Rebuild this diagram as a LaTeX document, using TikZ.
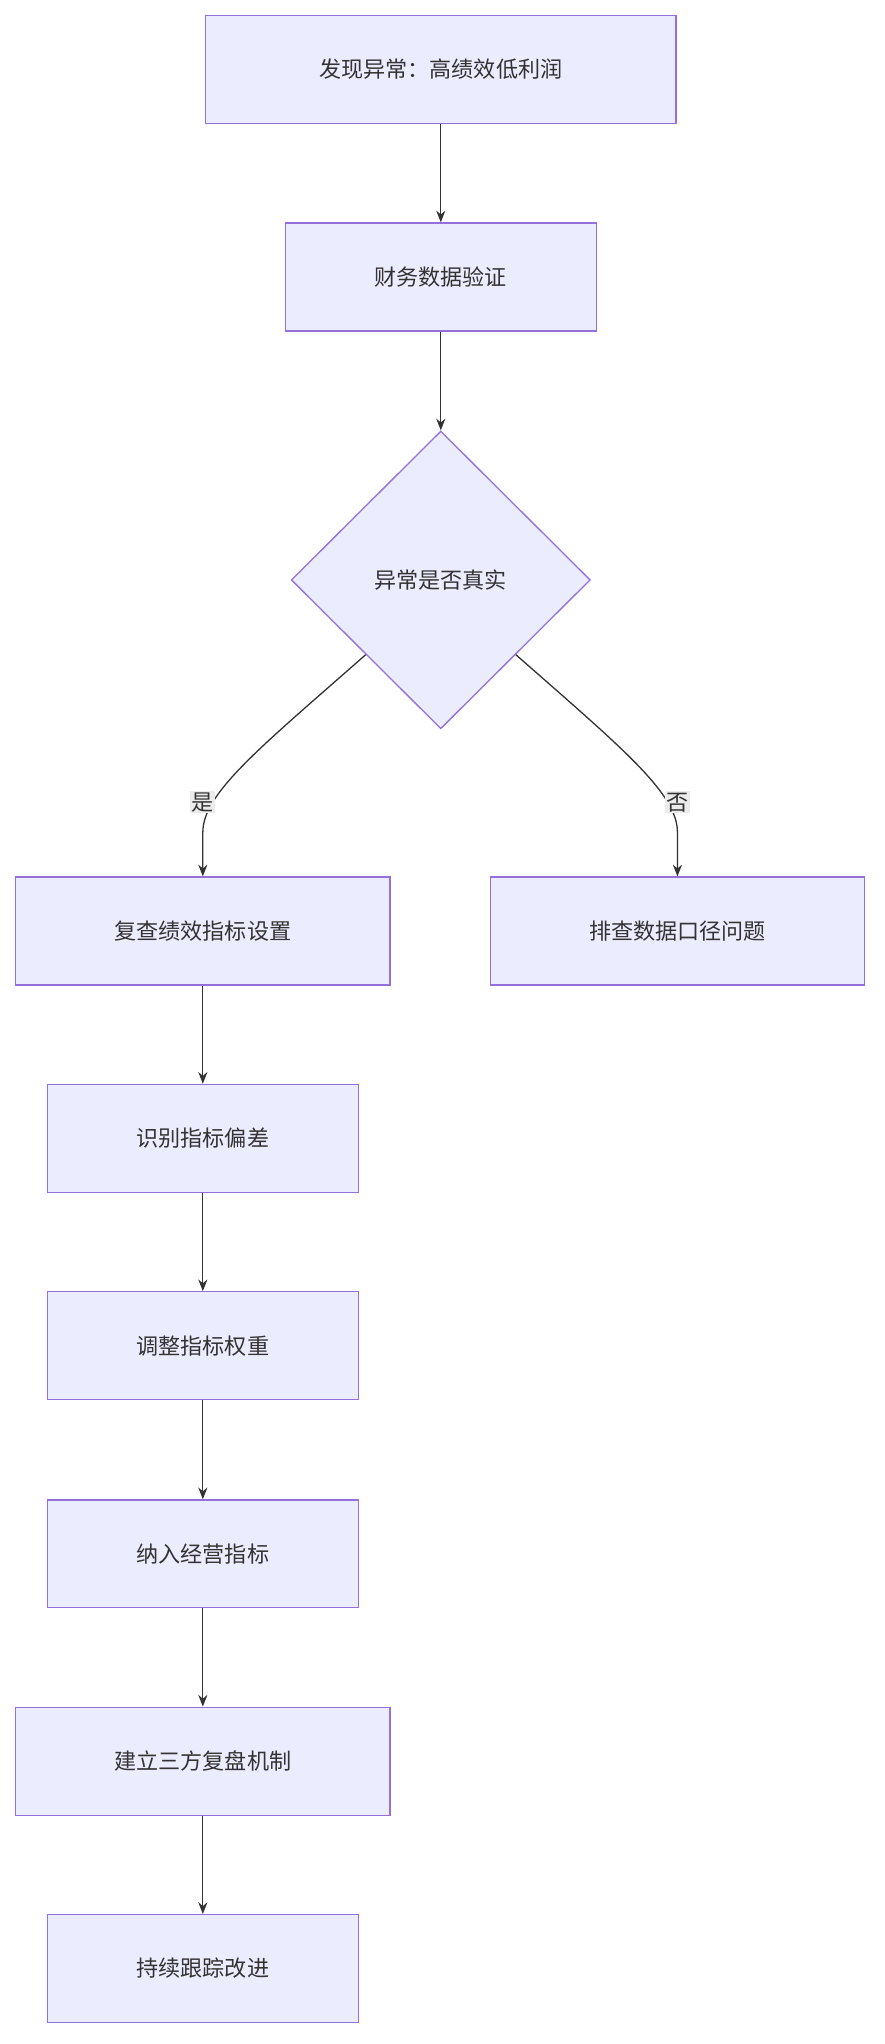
\documentclass[tikz,border=0pt]{standalone}
\usepackage{fontspec}
\setmainfont{Noto Sans CJK SC}
\usetikzlibrary{shapes.geometric,arrows.meta}
\definecolor{fillc}{HTML}{ECECFF}
\definecolor{linec}{HTML}{9370DB}
\definecolor{edgec}{HTML}{333333}
\begin{document}
\begin{tikzpicture}[x=1pt,y=-1pt,
  box/.style={draw=linec,fill=fillc,line width=1pt,minimum height=83pt,inner sep=0pt,font=\fontsize{17}{20}\selectfont,text=edgec},
  dia/.style={draw=linec,fill=fillc,line width=1pt,diamond,minimum width=230pt,minimum height=229pt,inner sep=0pt,font=\fontsize{17}{20}\selectfont,text=edgec},
  arr/.style={draw=edgec,line width=1pt,-{Stealth[length=9pt,width=7pt]}},
  lbl/.style={fill=black!8,inner sep=1pt,font=\fontsize{17}{20}\selectfont,text=edgec}]
\useasboundingbox (0,0) rectangle (680,1572);
\node[box,minimum width=362pt] (a) at (339,53.5) {发现异常：高绩效低利润};
\node[box,minimum width=239pt] (b) at (339,213) {财务数据验证};
\node[dia] (c) at (339,446) {异常是否真实};
\node[box,minimum width=288pt] (d) at (156,716) {复查绩效指标设置};
\node[box,minimum width=288pt] (e) at (521,716) {排查数据口径问题};
\node[box,minimum width=239pt] (f) at (156,875.5) {识别指标偏差};
\node[box,minimum width=239pt] (g) at (156,1035) {调整指标权重};
\node[box,minimum width=239pt] (h) at (156,1195) {纳入经营指标};
\node[box,minimum width=288pt] (i) at (156,1354.5) {建立三方复盘机制};
\node[box,minimum width=239pt] (j) at (156,1514) {持续跟踪改进};
\draw[arr] (a) -- (b);
\draw[arr] (b) -- (c);
\draw[arr] (c.south west) .. controls (200,575) and (156,610) .. (156,640) -- (d.north);
\draw[arr] (c.south east) .. controls (478,575) and (521,610) .. (521,640) -- (e.north);
\node[lbl] (l1) at (156,617) {是};
\node[lbl] (l2) at (521,617) {否};
\draw[arr] (d) -- (f);
\draw[arr] (f) -- (g);
\draw[arr] (g) -- (h);
\draw[arr] (h) -- (i);
\draw[arr] (i) -- (j);
\end{tikzpicture}
\end{document}
